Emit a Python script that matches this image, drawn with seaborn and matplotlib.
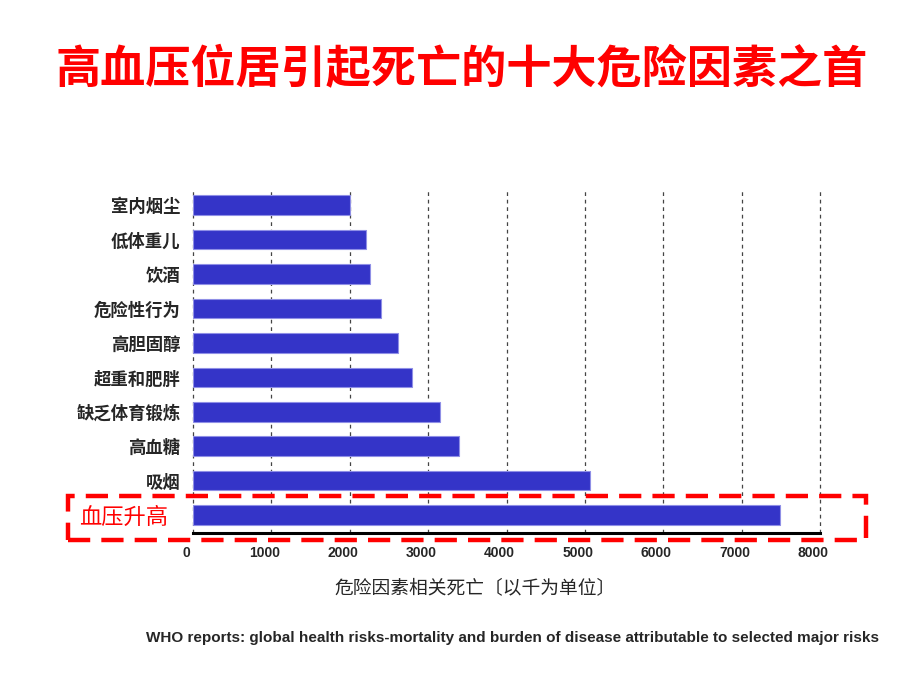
import matplotlib
matplotlib.use("Agg")
import matplotlib.pyplot as plt
import matplotlib.transforms as mtransforms
from matplotlib.patches import Rectangle
import seaborn as sns
import pandas as pd

# WHO risk factors, deaths in thousands
risks = ["室内烟尘", "低体重儿", "饮酒", "危险性行为", "高胆固醇",
         "超重和肥胖", "缺乏体育锻炼", "高血糖", "吸烟", "血压升高"]
deaths = [2000, 2210, 2260, 2400, 2610, 2790, 3150, 3390, 5060, 7490]
xticks = [0, 1000, 2000, 3000, 4000, 5000, 6000, 7000, 8000]

title = "高血压位居引起死亡的十大危险因素之首"
xlabel = "危险因素相关死亡〔以千为单位〕"
source = "WHO reports: global health risks-mortality and burden of disease attributable to selected major risks"

sns.set_style("white")
plt.rcParams["font.family"] = ["Noto Sans CJK SC", "DejaVu Sans"]

df = pd.DataFrame({"risk": risks, "deaths": deaths})

fig = plt.figure(figsize=(9.2, 6.9), dpi=100)
ax = fig.add_axes([0.2098, 0.2275, 0.6815, 0.4971])

sns.barplot(data=df, x="deaths", y="risk", color="#3434c8", width=0.57,
            saturation=1, edgecolor="#8f8fe6", linewidth=0.8, ax=ax, zorder=3)

ax.set_xlim(0, 8000)
ax.set_ylim(9.52, -0.44)
ax.set_xticks(xticks)
ax.set_xticklabels([str(v) for v in xticks], fontfamily="Liberation Sans",
                   fontweight="bold", fontsize=10)
ax.xaxis.grid(True, linestyle=(0, (3, 3)), color="#444444", linewidth=0.9, zorder=0)
for gl in ax.get_xgridlines():
    gl.set_clip_on(False)
ax.yaxis.grid(False)
ax.tick_params(axis="x", length=0, pad=9)
ax.tick_params(axis="y", length=0, pad=9, labelsize=12.5)
for s in ["top", "right", "left"]:
    ax.spines[s].set_visible(False)
ax.spines["bottom"].set_linewidth(2.2)
ax.spines["bottom"].set_color("black")
ax.spines["bottom"].set_zorder(4)
ax.set_xlabel("")
ax.set_ylabel("")

shift = mtransforms.ScaledTranslation(-7 / 100, 0, fig.dpi_scale_trans)
for lab in ax.get_xticklabels():
    lab.set_transform(lab.get_transform() + shift)

for lab in ax.get_yticklabels():
    lab.set_fontweight("bold")
    if lab.get_text() == "血压升高":
        lab.set_color("#ff0000")
        lab.set_fontsize(16)
        lab.set_fontweight("normal")
        lab.set_transform(lab.get_transform() +
                          mtransforms.ScaledTranslation(-12 / 100, 0, fig.dpi_scale_trans))

# red dashed highlight box
fig.patches.append(Rectangle((68 / 920, 1 - 540 / 690), (866 - 68) / 920, 44 / 690,
                             transform=fig.transFigure, fill=False, edgecolor="#ff0000",
                             linewidth=3.2, linestyle=(0, (5, 2.5)), zorder=5))

fig.text(462 / 920, 1 - 70 / 690, title, color="#ff0000", fontsize=32.5, ha="center",
         va="center", fontweight="bold")
fig.text(475 / 920, 1 - 588 / 690, xlabel, fontsize=13.5, ha="center", va="center")
fig.text(513 / 920, 1 - 638 / 690, source, fontsize=11, ha="center", va="center",
         fontfamily="Liberation Sans", fontweight="bold")

fig.savefig("out.png", dpi=100)
